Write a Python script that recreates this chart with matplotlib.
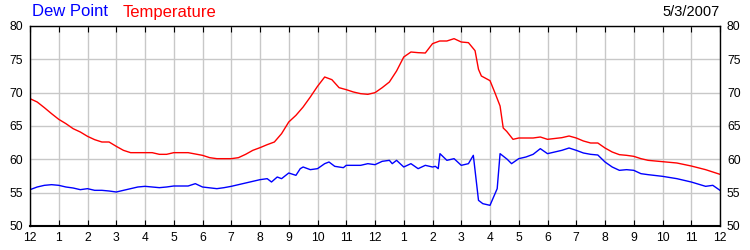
import matplotlib.pyplot as plt
import numpy as np

plt.rcParams['font.family'] = ['Liberation Sans', 'DejaVu Sans']

# hours since midnight
temp_hours = [0, 0.25, 0.5, 0.75, 1, 1.25, 1.5, 1.75, 2, 2.25, 2.5, 2.75, 3, 3.25, 3.5,
              4, 4.25, 4.5, 4.75, 5, 5.5, 5.75, 6, 6.25, 6.5, 7, 7.25, 7.5, 7.75, 8,
              8.25, 8.5, 8.75, 9, 9.25, 9.5, 9.75, 10, 10.25, 10.5, 10.75, 11, 11.25,
              11.5, 11.75, 12, 12.25, 12.5, 12.75, 13, 13.25, 13.5, 13.75, 14, 14.25,
              14.5, 14.75, 15, 15.25, 15.48, 15.6, 15.7, 16, 16.17, 16.35, 16.46, 16.58,
              16.8, 17, 17.5, 17.75, 18, 18.5, 18.75, 19, 19.25, 19.5, 19.75, 20, 20.25,
              20.5, 20.75, 21, 21.25, 21.5, 22, 22.5, 23, 23.5, 23.75, 24]
temperature = [69.1, 68.6, 67.75, 66.85, 66.0, 65.35, 64.6, 64.1, 63.45, 62.95, 62.6, 62.6,
               61.95, 61.35, 61.0, 61.0, 61.0, 60.75, 60.75, 61.0, 61.0, 60.8, 60.6, 60.25,
               60.1, 60.1, 60.25, 60.75, 61.35, 61.75, 62.2, 62.6, 63.85, 65.6, 66.6, 67.85,
               69.35, 70.95, 72.35, 71.95, 70.75, 70.45, 70.1, 69.85, 69.75, 70.0, 70.75,
               71.6, 73.25, 75.35, 76.1, 76.0, 75.95, 77.35, 77.75, 77.75, 78.1, 77.6, 77.5,
               76.3, 73.5, 72.5, 71.8, 70.0, 68.0, 64.7, 64.2, 63.0, 63.2, 63.2, 63.35,
               63.0, 63.25, 63.5, 63.2, 62.75, 62.45, 62.45, 61.7, 61.1, 60.7, 60.6, 60.45,
               60.1, 59.85, 59.65, 59.45, 59.0, 58.45, 58.1, 57.75]

dew_hours = [0, 0.25, 0.5, 0.75, 1, 1.25, 1.5, 1.75, 2, 2.25, 2.5, 2.75, 3, 3.25, 3.5, 3.75,
             4, 4.5, 4.75, 5, 5.5, 5.75, 6, 6.5, 6.75, 7, 7.25, 7.5, 7.75, 8, 8.25, 8.4,
             8.6, 8.75, 9, 9.25, 9.4, 9.5, 9.75, 10, 10.25, 10.4, 10.6, 10.9, 11, 11.5,
             11.75, 12, 12.25, 12.5, 12.6, 12.75, 13, 13.25, 13.5, 13.75, 14, 14.1, 14.2,
             14.26, 14.5, 14.75, 15, 15.25, 15.42, 15.6, 15.75, 16, 16.25, 16.35, 16.6,
             16.75, 17, 17.25, 17.5, 17.75, 18, 18.25, 18.5, 18.75, 19, 19.25, 19.5, 19.75,
             20, 20.25, 20.5, 20.75, 21, 21.25, 21.5, 22, 22.5, 23, 23.5, 23.75, 24]
dew_point = [55.45, 55.85, 56.1, 56.2, 56.1, 55.85, 55.7, 55.45, 55.6, 55.35, 55.35, 55.25,
             55.1, 55.35, 55.6, 55.85, 55.95, 55.75, 55.85, 56.0, 56.0, 56.35, 55.85, 55.6,
             55.75, 55.95, 56.2, 56.45, 56.7, 56.95, 57.1, 56.6, 57.35, 57.1, 57.95, 57.6,
             58.6, 58.85, 58.45, 58.6, 59.35, 59.6, 58.95, 58.75, 59.1, 59.1, 59.35, 59.2,
             59.7, 59.85, 59.35, 59.85, 58.85, 59.35, 58.6, 59.1, 58.85, 58.95, 58.6, 60.85,
             59.85, 60.1, 59.1, 59.35, 60.6, 53.85, 53.35, 53.1, 55.6, 60.85, 60.0, 59.35,
             60.1, 60.35, 60.75, 61.6, 60.85, 61.1, 61.35, 61.7, 61.35, 60.95, 60.75, 60.65,
             59.6, 58.85, 58.35, 58.45, 58.35, 57.85, 57.7, 57.45, 57.1, 56.6, 55.95, 56.1,
             55.35]

hour_labels = ['12'] + [str(h) for h in range(1, 12)] + ['12'] + [str(h) for h in range(1, 12)] + ['12']
date_text = '5/3/2007'

fig = plt.figure(figsize=(7.5, 2.5), dpi=100)
ax = fig.add_axes([0.04, 0.096, 0.92, 0.80])

ax.plot(temp_hours, temperature, color='#ff0000', lw=1.0)
ax.plot(dew_hours, dew_point, color='#0000ff', lw=1.0)

ax.set_xlim(0, 24)
ax.set_ylim(50, 80)
ax.set_xticks(np.arange(0, 25, 1))
ax.set_xticklabels(hour_labels)
ax.set_yticks(np.arange(50, 81, 5))
ax.grid(True, color='#c8c8c8', lw=1.0)
ax.set_axisbelow(True)

ax.tick_params(axis='x', direction='in', length=4, top=True, color='black',
               labelsize=8.7, pad=4)
ax.tick_params(axis='y', direction='in', length=0, right=True, labelright=True,
               labelsize=8.7, pad=5)
for s in ax.spines.values():
    s.set_color('black')
    s.set_linewidth(1.0)
ax.spines['bottom'].set_linewidth(1.5)

fig.text(0.043, 0.952, 'Dew Point', color='#0000ff', fontsize=12, va='center')
fig.text(0.164, 0.952, 'Temperature', color='#ff0000', fontsize=12, va='center')
fig.text(0.959, 0.95, date_text, color='black', fontsize=10.5, ha='right', va='center')

fig.savefig('out.png', dpi=100)
